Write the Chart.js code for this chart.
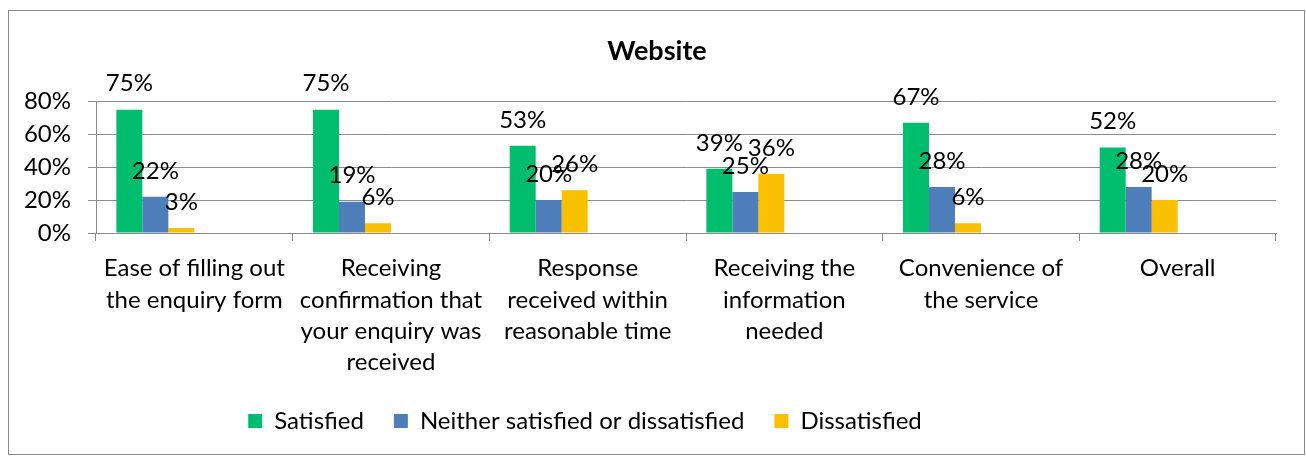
<!DOCTYPE html>
<html>
<head>
<meta charset="utf-8">
<script src="https://cdn.jsdelivr.net/npm/chart.js@4/dist/chart.umd.min.js"></script>
<style>
  body { margin: 0; background: #fff; }
  #wrap { position: relative; width: 1306px; height: 457px; }
  #frame { position: absolute; left: 8px; top: 10px; width: 1295px; height: 443px; border: 1px solid #8a8a8a; }
  canvas { position: absolute; left: 0; top: 0; }
</style>
</head>
<body>
<div id="wrap">
  <div id="frame"></div>
  <canvas id="chart" width="1306" height="457"></canvas>
</div>
<script>
const categories = [
    ['Ease of filling out', 'the enquiry form'],
    ['Receiving', 'confirmation that', 'your enquiry was', 'received'],
    ['Response', 'received within', 'reasonable time'],
    ['Receiving the', 'information', 'needed'],
    ['Convenience of', 'the service'],
    ['Overall']
];
const satisfied = [75, 75, 53, 39, 67, 52];
const neither = [22, 19, 20, 25, 28, 28];
const dissatisfied = [3, 6, 26, 36, 6, 20];
const yTicks = [0, 20, 40, 60, 80];

const FONT = 'Lato';
const GRID = '#8c8c8c';

// value labels above each bar
const barLabels = {
    id: 'barLabels',
    afterDatasetsDraw(chart) {
        const ctx = chart.ctx;
        ctx.save();
        ctx.font = '24px ' + FONT;
        ctx.fillStyle = '#000';
        ctx.textAlign = 'center';
        ctx.textBaseline = 'middle';
        for (let i = 0; i < 3; i++) {
            const meta = chart.getDatasetMeta(i);
            meta.data.forEach((bar, j) => {
                ctx.fillText(chart.data.datasets[i].data[j] + '%', bar.x, bar.y - 26);
            });
        }
        ctx.restore();
    }
};

// title sits a bit right of centre, legend left of centre in the original
const nudge = {
    id: 'nudge',
    afterLayout(chart) {
        chart.titleBlock.left += 19;
        chart.titleBlock.right += 19;
        chart.legend.left -= 53;
        chart.legend.right -= 53;
    }
};

new Chart(document.getElementById('chart'), {
    type: 'bar',
    data: {
        labels: categories,
        datasets: [
            { label: 'Satisfied', data: satisfied, backgroundColor: '#00BE6E' },
            { label: 'Neither satisfied or dissatisfied', data: neither, backgroundColor: '#4F7FBA' },
            { label: 'Dissatisfied', data: dissatisfied, backgroundColor: '#F9C000' },
            { label: 'spacer1', data: [] },
            { label: 'spacer2', data: [] },
            { label: 'spacer3', data: [] }
        ]
    },
    options: {
        responsive: false,
        animation: false,
        barPercentage: 1,
        categoryPercentage: 0.793,
        layout: { padding: { left: 0, right: 30, top: 0, bottom: 14 } },
        plugins: {
            title: {
                display: true,
                text: 'Website',
                color: '#000',
                font: { family: FONT, size: 27, weight: 'bold' },
                padding: { top: 35, bottom: 34 }
            },
            legend: {
                position: 'bottom',
                labels: {
                    filter: item => item.datasetIndex < 3,
                    color: '#000',
                    font: { family: FONT, size: 24 },
                    boxWidth: 14,
                    boxHeight: 14,
                    padding: 30
                }
            },
            tooltip: { enabled: false }
        },
        scales: {
            x: {
                afterFit: s => { s.height = 146; },
                grid: { drawOnChartArea: false, offset: true, tickLength: 8, color: GRID },
                border: { color: GRID },
                ticks: {
                    color: '#000',
                    font: { family: FONT, size: 24, lineHeight: 1.3 },
                    padding: 12,
                    maxRotation: 0,
                    autoSkip: false
                }
            },
            y: {
                min: 0,
                max: 80,
                afterFit: s => { s.width = 96; },
                afterBuildTicks: s => { s.ticks = yTicks.map(v => ({ value: v })); },
                grid: { color: GRID, tickLength: 8 },
                border: { color: GRID },
                ticks: {
                    color: '#000',
                    font: { family: FONT, size: 24 },
                    padding: 17,
                    callback: v => v + '%'
                }
            }
        }
    },
    plugins: [barLabels, nudge]
});
</script>
</body>
</html>
